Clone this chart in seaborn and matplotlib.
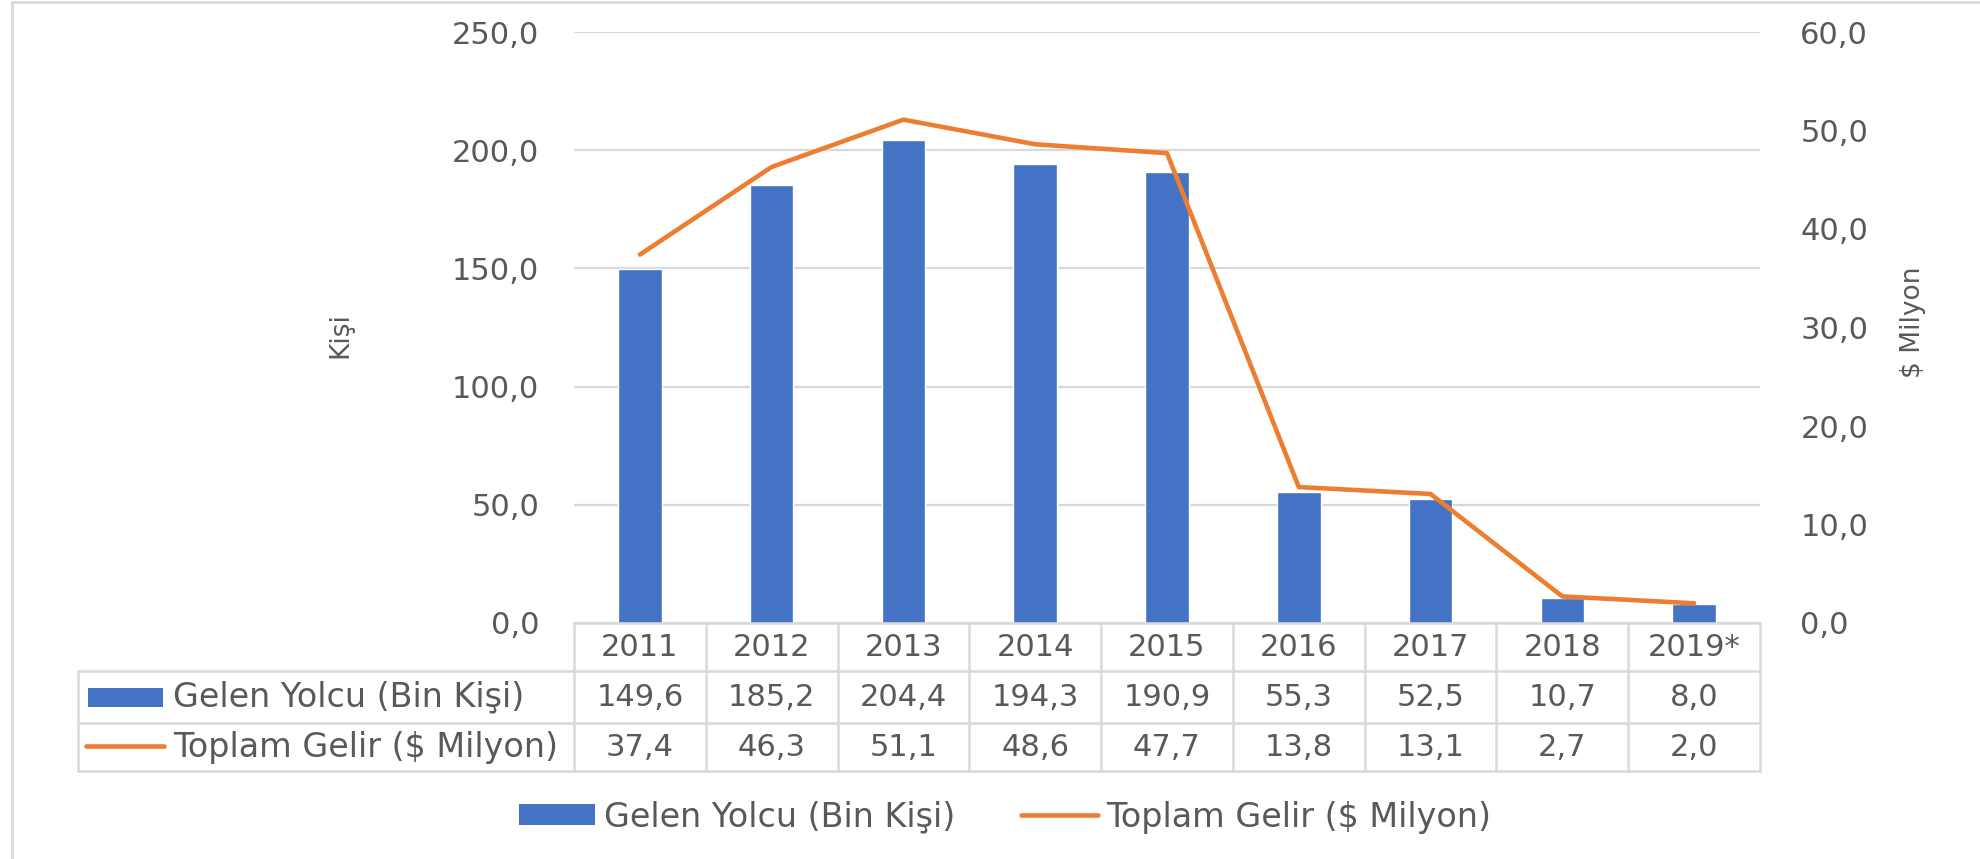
import matplotlib
matplotlib.use('Agg')
import matplotlib.pyplot as plt
import seaborn as sns
from matplotlib.lines import Line2D
from matplotlib.patches import Patch, Rectangle

years = ['2011', '2012', '2013', '2014', '2015', '2016', '2017', '2018', '2019*']
yolcu = [149.6, 185.2, 204.4, 194.3, 190.9, 55.3, 52.5, 10.7, 8.0]   # Gelen Yolcu (Bin Kişi)
gelir = [37.4, 46.3, 51.1, 48.6, 47.7, 13.8, 13.1, 2.7, 2.0]          # Toplam Gelir ($ Milyon)
left_ticks = [0, 50, 100, 150, 200, 250]
right_ticks = [0, 10, 20, 30, 40, 50, 60]
label_yolcu = 'Gelen Yolcu (Bin Kişi)'
label_gelir = 'Toplam Gelir ($ Milyon)'

blue = '#4472C4'
orange = '#ED7D31'
grid_c = '#D9D9D9'
text_c = '#595959'

sns.set_style('white')
plt.rcParams['font.family'] = ['DejaVu Sans']

def tr(v):
	return f'{v:.1f}'.replace('.', ',')

W, H = 1980, 859
fig = plt.figure(figsize=(W / 100, H / 100), dpi=100)
ax = fig.add_axes([574 / W, 1 - 623 / H, (1760 - 574) / W, (623 - 32) / H])

sns.barplot(x=years, y=yolcu, color=blue, saturation=1, width=0.33, ax=ax)
ax.set_xlim(-0.5, len(years) - 0.5)
ax.set_ylim(0, 250)
ax.set_yticks(left_ticks)
ax.set_yticklabels([tr(v) for v in left_ticks])
ax.set_xticks([])
ax.set_xlabel('')
ax.set_ylabel('')
ax.grid(axis='y', color=grid_c, linewidth=1.6)
ax.set_axisbelow(True)
ax.tick_params(axis='y', length=0, pad=25, labelsize=22, labelcolor=text_c)
for s in ax.spines.values():
	s.set_visible(False)

ax2 = ax.twinx()
sns.lineplot(x=list(range(len(years))), y=gelir, color=orange, linewidth=3.3, ax=ax2)
ax2.lines[0].set_solid_capstyle('round')
ax2.lines[0].set_solid_joinstyle('round')
ax2.set_ylim(0, 60)
ax2.set_yticks(right_ticks)
ax2.set_yticklabels([tr(v) for v in right_ticks])
ax2.tick_params(axis='y', length=0, pad=29, labelsize=22, labelcolor=text_c)
ax2.set_xlim(-0.5, len(years) - 0.5)
for s in ax2.spines.values():
	s.set_visible(False)

fig.text(340 / W, 1 - 335 / H, 'Kişi', rotation=90, ha='center', va='center', fontsize=19, color=text_c)
fig.text(1913 / W, 1 - 322 / H, '$ Milyon', rotation=90, ha='center', va='center', fontsize=19, color=text_c)

# data table under the plot (axes fractions)
n = len(years)
ph = 623 - 32
rows = [0, -48 / ph, -100 / ph, -148 / ph]
lab_x = (78 - 574) / (1760 - 574)
kw = dict(transform=ax.transAxes, color=grid_c, linewidth=1.8, clip_on=False)
ax.add_line(Line2D([0, 1], [rows[0], rows[0]], **kw))
for r in rows[1:]:
	ax.add_line(Line2D([lab_x, 1], [r, r], **kw))
for k in range(n + 1):
	ax.add_line(Line2D([k / n, k / n], [rows[0], rows[3]], **kw))
ax.add_line(Line2D([lab_x, lab_x], [rows[1], rows[3]], **kw))

for i in range(n):
	xc = (i + 0.5) / n
	ax.text(xc, (rows[0] + rows[1]) / 2, years[i], transform=ax.transAxes, ha='center', va='center', fontsize=22, color=text_c)
	ax.text(xc, (rows[1] + rows[2]) / 2, tr(yolcu[i]), transform=ax.transAxes, ha='center', va='center', fontsize=22, color=text_c)
	ax.text(xc, (rows[2] + rows[3]) / 2, tr(gelir[i]), transform=ax.transAxes, ha='center', va='center', fontsize=22, color=text_c)

aw = 1760 - 574
txt_x = (173 - 574) / aw
ax.text(txt_x, (rows[1] + rows[2]) / 2, label_yolcu, transform=ax.transAxes, ha='left', va='center', fontsize=24, color=text_c)
ax.text(txt_x, (rows[2] + rows[3]) / 2, label_gelir, transform=ax.transAxes, ha='left', va='center', fontsize=24, color=text_c)
ax.add_patch(Rectangle(((88 - 574) / aw, (623 - 707) / ph), 75 / aw, 19 / ph, transform=ax.transAxes,
	facecolor=blue, edgecolor='none', clip_on=False))
ax.add_line(Line2D([(86 - 574) / aw, (164 - 574) / aw], [(623 - 746) / ph] * 2, transform=ax.transAxes,
	color=orange, linewidth=3.3, solid_capstyle='round', clip_on=False))

handles = [Patch(facecolor=blue, edgecolor='none'), Line2D([0], [0], color=orange, linewidth=3.3, solid_capstyle='round')]
fig.legend(handles, [label_yolcu, label_gelir], loc='center', bbox_to_anchor=(1005 / W, 1 - 817 / H), ncol=2,
	frameon=False, fontsize=24, labelcolor=text_c, handlelength=2.3, handleheight=0.6,
	handletextpad=0.25, columnspacing=2.0)

# chart area border
fig.add_artist(Line2D([12 / W, 12 / W], [0, 1 - 2 / H], transform=fig.transFigure, color=grid_c, linewidth=2))
fig.add_artist(Line2D([12 / W, 1], [1 - 2 / H, 1 - 2 / H], transform=fig.transFigure, color=grid_c, linewidth=2))

fig.savefig('out.png', dpi=100)
